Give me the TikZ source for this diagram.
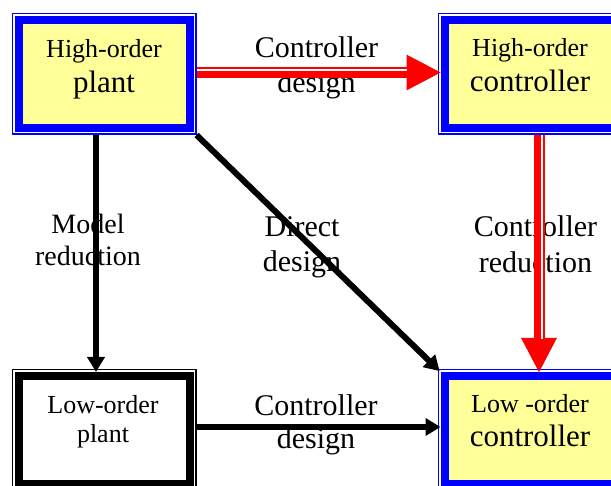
\documentclass[tikz,border=0pt]{standalone}
\usepackage{fontspec}
\setmainfont{Liberation Serif}
\usetikzlibrary{arrows.meta}
\definecolor{boxyellow}{RGB}{255,255,153}
\tikzset{
  framebox/.style={rectangle, minimum width=171pt, minimum height=108pt,
    inner sep=0pt, outer sep=7pt,
    preaction={draw=#1, line width=14pt},
    preaction={draw=white, line width=11pt},
    draw=#1, line width=8pt},
  hibox/.style={framebox=blue, fill=boxyellow},
  lobox/.style={framebox=black, fill=white},
  txt/.style 2 args={align=center, inner sep=0pt, font=\fontsize{#1}{#2}\selectfont},
  blackarrow/.style={draw=black, line width=6pt,
    -{Triangle[length=15pt,width=17pt]}, shorten >=-3pt},
  redarrow/.style={draw=red, line width=11pt,
    -{Triangle[length=35pt,width=33pt]}, shorten >=-4pt},
  stripe/.style={draw=white, line width=1.8pt}
}
\newcommand{\bigline}[1]{\fontsize{31}{35}\selectfont #1}
\begin{document}
\begin{tikzpicture}[x=1pt, y=-1pt]
  \useasboundingbox (0,0) rectangle (611,486);
  % the four blocks
  \node[hibox] (hplant) at (104,74) {};
  \node[hibox] (hctrl) at (530,74) {};
  \node[lobox] (lplant) at (104,430) {};
  \node[hibox] (lctrl) at (530,430) {};
  \node[txt={26}{35}] (hplanttxt) at (104,69) {High-order\\\bigline{plant}};
  \node[txt={26}{35}] (hctrltxt) at (530,65.6) {High-order\\\bigline{controller}};
  \node[txt={26}{29}] (lplanttxt) at (103,421.4) {Low-order\\plant};
  \node[txt={26}{34}] (lctrltxt) at (530,421) {Low -order\\\bigline{controller}};
  % edge labels
  \node[txt={30}{35}] (designtop) at (316.5,68) {Controller\\design};
  \node[txt={28}{32}] (modelred) at (88,239.5) {Model\\reduction};
  \node[txt={30}{35}] (directdes) at (302,247.5) {Direct\\design};
  \node[txt={30}{36}] (ctrlred) at (535.5,244) {Controller\\reduction};
  \node[txt={30}{33}] (designbot) at (316,424.5) {Controller\\design};
  % connectors
  \draw[redarrow] ([yshift=1.5pt]hplant.east) -- ([yshift=1.5pt]hctrl.west);
  \draw[stripe, shorten >=31pt] ([yshift=4pt]hplant.east) -- ([yshift=4pt]hctrl.west);
  \draw[redarrow] ([xshift=9pt]hctrl.south) -- ([xshift=9pt]lctrl.north);
  \draw[stripe, shorten >=30pt] ([xshift=12pt]hctrl.south) -- ([xshift=12pt]lctrl.north);
  \draw[blackarrow] ([xshift=-8pt]hplant.south) -- ([xshift=-8pt]lplant.north);
  \draw[blackarrow] (hplant.south east) -- (lctrl.north west);
  \draw[blackarrow] ([yshift=3pt]lplant.east) -- ([yshift=3pt]lctrl.west);
\end{tikzpicture}
\end{document}
